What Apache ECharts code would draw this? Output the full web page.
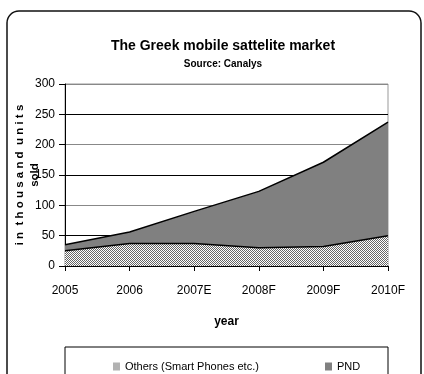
<!DOCTYPE html>
<html>
<head>
<meta charset="utf-8">
<script src="https://cdn.jsdelivr.net/npm/echarts@6/dist/echarts.min.js"></script>
<style>
  html, body { margin: 0; padding: 0; background: #fff; }
  #chart { width: 424px; height: 374px; }
</style>
</head>
<body>
<div id="chart"></div>
<script>
const years = ['2005', '2006', '2007E', '2008F', '2009F', '2010F']
const others = [25, 37, 37, 30, 32, 50]
const pnd = [10, 19, 53, 93, 139, 187]
const yTicks = [0, 50, 100, 150, 200, 250, 300]

const font = '"Liberation Sans", Arial, sans-serif'

// fine checker pattern for the "Others" area
function checker() {
  const c = document.createElement('canvas')
  c.width = 2
  c.height = 2
  const ctx = c.getContext('2d')
  ctx.fillStyle = '#fff'
  ctx.fillRect(0, 0, 2, 2)
  ctx.fillStyle = '#666'
  ctx.fillRect(0, 0, 1, 1)
  ctx.fillRect(1, 1, 1, 1)
  return c
}
const pattern = { image: checker(), repeat: 'repeat' }

const legendText = { fontFamily: font, fontSize: 11, color: '#000' }

const chart = echarts.init(document.getElementById('chart'))
chart.setOption({
  animation: false,
  textStyle: { fontFamily: font },
  graphic: [
    {
      type: 'rect',
      shape: { x: 7, y: 11, width: 414, height: 380, r: 12 },
      style: { fill: 'none', stroke: '#111', lineWidth: 1.5 },
      z: -1
    },
    {
      type: 'rect',
      shape: { x: 65, y: 347, width: 323, height: 40 },
      style: { fill: '#fff', stroke: '#000', lineWidth: 1 },
      z: -1
    }
  ],
  title: {
    text: 'The Greek mobile sattelite market',
    subtext: 'Source: Canalys',
    left: 218,
    textAlign: 'center',
    top: 34,
    itemGap: 6,
    textStyle: { fontFamily: font, fontSize: 14, fontWeight: 'bold', color: '#000' },
    subtextStyle: { fontFamily: font, fontSize: 10, fontWeight: 'bold', color: '#000' }
  },
  legend: [
    {
      data: ['Others (Smart Phones etc.)'],
      left: 108,
      top: 356,
      icon: 'rect',
      itemWidth: 7,
      itemHeight: 8,
      itemGap: 4,
      textStyle: legendText
    },
    {
      data: ['PND'],
      left: 320,
      top: 356,
      icon: 'rect',
      itemWidth: 7,
      itemHeight: 8,
      itemGap: 4,
      textStyle: legendText
    }
  ],
  grid: {
    left: 65,
    right: 36,
    top: 84,
    bottom: 108,
    outerBoundsMode: 'none',
    show: true,
    borderColor: '#999',
    borderWidth: 1
  },
  xAxis: {
    type: 'category',
    data: years,
    boundaryGap: false,
    name: 'year',
    nameLocation: 'middle',
    nameGap: 50,
    nameTextStyle: { fontFamily: font, fontSize: 12, fontWeight: 'bold', color: '#000' },
    axisLine: { lineStyle: { color: '#000' } },
    axisTick: { length: 5, lineStyle: { color: '#000' } },
    axisLabel: { fontFamily: font, fontSize: 12, color: '#000', margin: 19 }
  },
  yAxis: {
    type: 'value',
    min: yTicks[0],
    max: yTicks[yTicks.length - 1],
    interval: 50,
    name: 'i n  t h o u s a n d  u n i t s\nsold',
    nameLocation: 'middle',
    nameGap: 23,
    nameMoveOverlap: false,
    nameTextStyle: { fontFamily: font, fontSize: 11.5, fontWeight: 'bold', color: '#000', lineHeight: 15 },
    axisLine: { show: true, lineStyle: { color: '#000' } },
    axisTick: { show: true, length: 6, lineStyle: { color: '#000' } },
    axisLabel: { fontFamily: font, fontSize: 12, color: '#000', margin: 10 },
    splitLine: {
      lineStyle: { color: ['#000', '#000', '#888', '#000', '#888', '#000', '#888'], width: 1 }
    }
  },
  series: [
    {
      name: 'Others (Smart Phones etc.)',
      type: 'line',
      stack: 'total',
      data: others,
      symbol: 'none',
      lineStyle: { color: '#000', width: 1.5 },
      itemStyle: { color: pattern, borderColor: '#000' },
      areaStyle: { color: pattern, opacity: 1 }
    },
    {
      name: 'PND',
      type: 'line',
      stack: 'total',
      data: pnd,
      symbol: 'none',
      lineStyle: { color: '#000', width: 1.5 },
      itemStyle: { color: '#808080', borderColor: '#000' },
      areaStyle: { color: '#808080', opacity: 1 }
    }
  ]
})
</script>
</body>
</html>
